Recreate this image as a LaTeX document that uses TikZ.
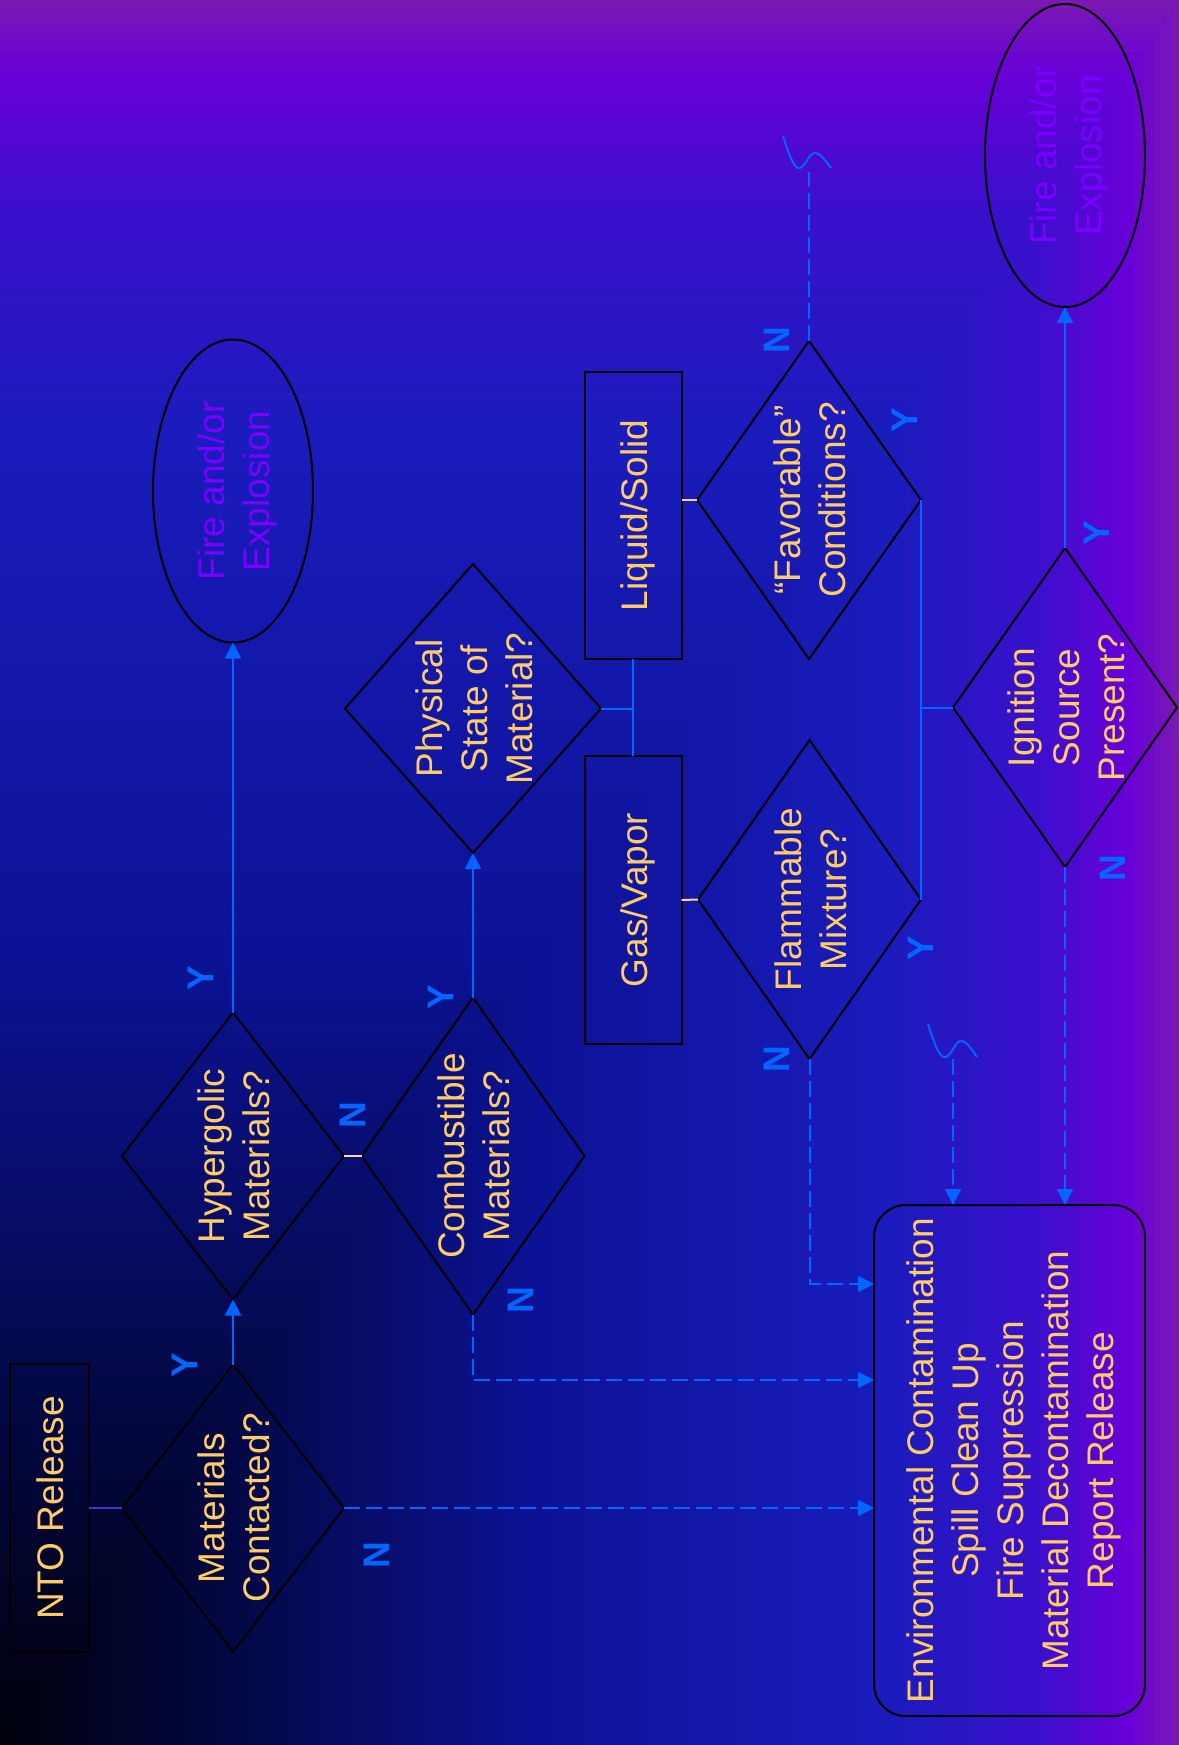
\documentclass[tikz,border=0pt]{standalone}
\usepackage{fontspec}
\setmainfont{Liberation Sans}
\usepackage{graphicx}
\usetikzlibrary{shapes.geometric,arrows.meta,positioning}

\definecolor{lineblue}{HTML}{0066FF}
\definecolor{txt}{HTML}{FFCC66}
\definecolor{peach}{HTML}{FFD2A0}
\definecolor{ntoline}{HTML}{4433CC}
\definecolor{firetxt}{HTML}{7A00FF}
\definecolor{bg0}{HTML}{00000A}
\definecolor{bg1}{HTML}{030845}
\definecolor{bg2}{HTML}{0C1294}
\definecolor{bg3}{HTML}{1A1CBC}
\definecolor{bg4}{HTML}{3A10CC}
\definecolor{bg5}{HTML}{6800D8}
\definecolor{bg6}{HTML}{7A18B4}

% text turned a quarter, taking no room in its node
\newcommand{\vtext}[1]{\makebox[0pt]{\kern5pt\raisebox{-0.5\height}[0pt][0pt]{\rotatebox{90}{\begin{tabular}{@{}c@{}}#1\end{tabular}}}}}

\begin{document}
\begin{tikzpicture}[x=0.5pt,y=-0.5pt,
  every node/.style={font=\fontsize{18.5}{22.5}\selectfont, text=txt, inner sep=0pt, outer sep=0pt},
  decision/.style={diamond, draw=black, line width=1pt},
  box/.style={rectangle, draw=black, line width=1pt},
  outcome/.style={ellipse, draw=black, line width=1pt, minimum width=80pt, minimum height=151.5pt, text=firetxt},
  yn/.style={font=\fontsize{18.5}{22}\selectfont\bfseries, text=lineblue, rotate=90},
  plain/.style={draw=lineblue, line width=1pt},
  flow/.style={plain, -{Triangle[width=8pt,length=8pt]}},
  nflow/.style={flow, dash pattern=on 8pt off 3pt},
  link/.style={draw=peach, line width=1pt}]
\useasboundingbox (0,0) rectangle (1179,1745);

% Background, dark in the lower left corner
\foreach \ta/\tb/\ca/\cb in {960/1000/bg5/bg6, 880/960/bg4/bg5, 750/880/bg3/bg4,
    450/750/bg2/bg3, 200/450/bg1/bg2, 0/200/bg0/bg1} {
  \pgfmathtruncatemacro\nb{(\tb-\ta)/5-1}
  \foreach \i in {0,...,\nb} {
    \pgfmathtruncatemacro\bt{\tb-5*\i}
    \pgfmathtruncatemacro\bp{(\bt-\ta)/(\tb-\ta)*100}
    \colorlet{bgc}{\cb!\bp!\ca}
    \fill[bgc] (0,1745) rectangle ({1.179*\bt},{1745-1.745*\bt});
  }
}

% Shapes
\node[box, minimum width=39.5pt, minimum height=144pt] (nto) at (49.5,1508) {\vtext{NTO Release}};
\node[decision, minimum width=111pt, minimum height=143.5pt] (mat) at (233,1508) {\vtext{Materials\\Contacted?}};
\node[decision, minimum width=111pt, minimum height=143.5pt] (hyp) at (233,1156) {\vtext{Hypergolic\\Materials?}};
\node[decision, minimum width=111.5pt, minimum height=158.5pt] (comb) at (473,1156) {\vtext{Combustible\\Materials?}};
\node[outcome] (fire1) at (233,491) {\vtext{Fire and/or\\Explosion}};
\node[decision, minimum width=128pt, minimum height=144.5pt] (phys) at (473,708.5) {\vtext{Physical\\State of\\Material?}};
\node[box, minimum width=48.5pt, minimum height=143.5pt] (liq) at (633,515.5) {\vtext{Liquid/Solid}};
\node[box, minimum width=48.5pt, minimum height=144pt] (gas) at (633,900) {\vtext{Gas/Vapor}};
\node[decision, minimum width=111.5pt, minimum height=159.5pt] (flam) at (809.5,899.5) {\vtext{Flammable\\Mixture?}};
\node[decision, minimum width=112pt, minimum height=159pt] (fav) at (809,500) {\vtext{“Favorable”\\Conditions?}};
\node[decision, minimum width=112pt, minimum height=159.5pt] (ign) at (1065,707.5) {\vtext{Ignition\\Source\\Present?}};
\node[outcome] (fire2) at (1065,155.5) {\vtext{Fire and/or\\Explosion}};
\node[box, rounded corners=16pt, minimum width=135.5pt, minimum height=255.5pt] (act) at (1009.5,1460.5)
  {\vtext{Environmental Contamination\\Spill Clean Up\\Fire Suppression\\Material Decontamination\\Report Release}};

% Breaks and entry points
\coordinate (brk1) at (809,172);
\coordinate (brk2) at (953,1059);
\coordinate (in-flam) at (874,1284);
\coordinate (in-comb) at (874,1380);
\draw[plain] (783,136) .. controls (790,158) and (795,170) .. (800,168)
  .. controls (806,166) and (809,153) .. (815,153) .. controls (821,153) and (826,162) .. (831,168);
\draw[plain] (928,1024) .. controls (935,1046) and (940,1059) .. (946,1057)
  .. controls (952,1055) and (955,1041) .. (961,1041) .. controls (967,1041) and (972,1050) .. (977,1057);

% Connectors
\draw[draw=ntoline, line width=1pt] (nto.east) -- (mat.west);
\draw[flow] (mat.north) -- (hyp.south);
\draw[nflow] (mat.east) -- (mat.east -| act.west);
\draw[flow] (hyp.north) -- (fire1.south);
\draw[link] (hyp.east) -- (comb.west);
\draw[flow] (comb.north) -- (phys.south);
\draw[nflow] (comb.south) |- (in-comb);
\draw[plain] (phys.east) -- (phys.east -| liq.south);
\draw[plain] (liq.south) -- (gas.north);
\draw[link] (gas.east) -- (flam.west);
\draw[link] (fav.west) -- (fav.west -| liq.east);
\draw[nflow] (flam.south) |- (in-flam);
\draw[plain] (flam.east) -- (fav.east);
\draw[plain] (ign.west) -- (ign.west -| flam.east);
\draw[plain, dash pattern=on 8pt off 3pt] (fav.north) -- (brk1);
\draw[nflow] (brk2) -- (brk2 |- act.north);
\draw[flow] (ign.north) -- (fire2.south);
\draw[nflow] (ign.south) -- (ign.south |- act.north);

% Y / N labels
\foreach \lx/\ly/\lt [count=\k] in {185/1365/Y, 377/1555/N, 201/978/Y, 353/1115/N,
    441/997/Y, 521/1300/N, 777/1059/N, 921/948/Y, 777/340/N, 905/420/Y,
    1097/533/Y, 1113/868/N} {
  \node[yn] (yn\k) at (\lx,\ly) {\lt};
}
\end{tikzpicture}
\end{document}
